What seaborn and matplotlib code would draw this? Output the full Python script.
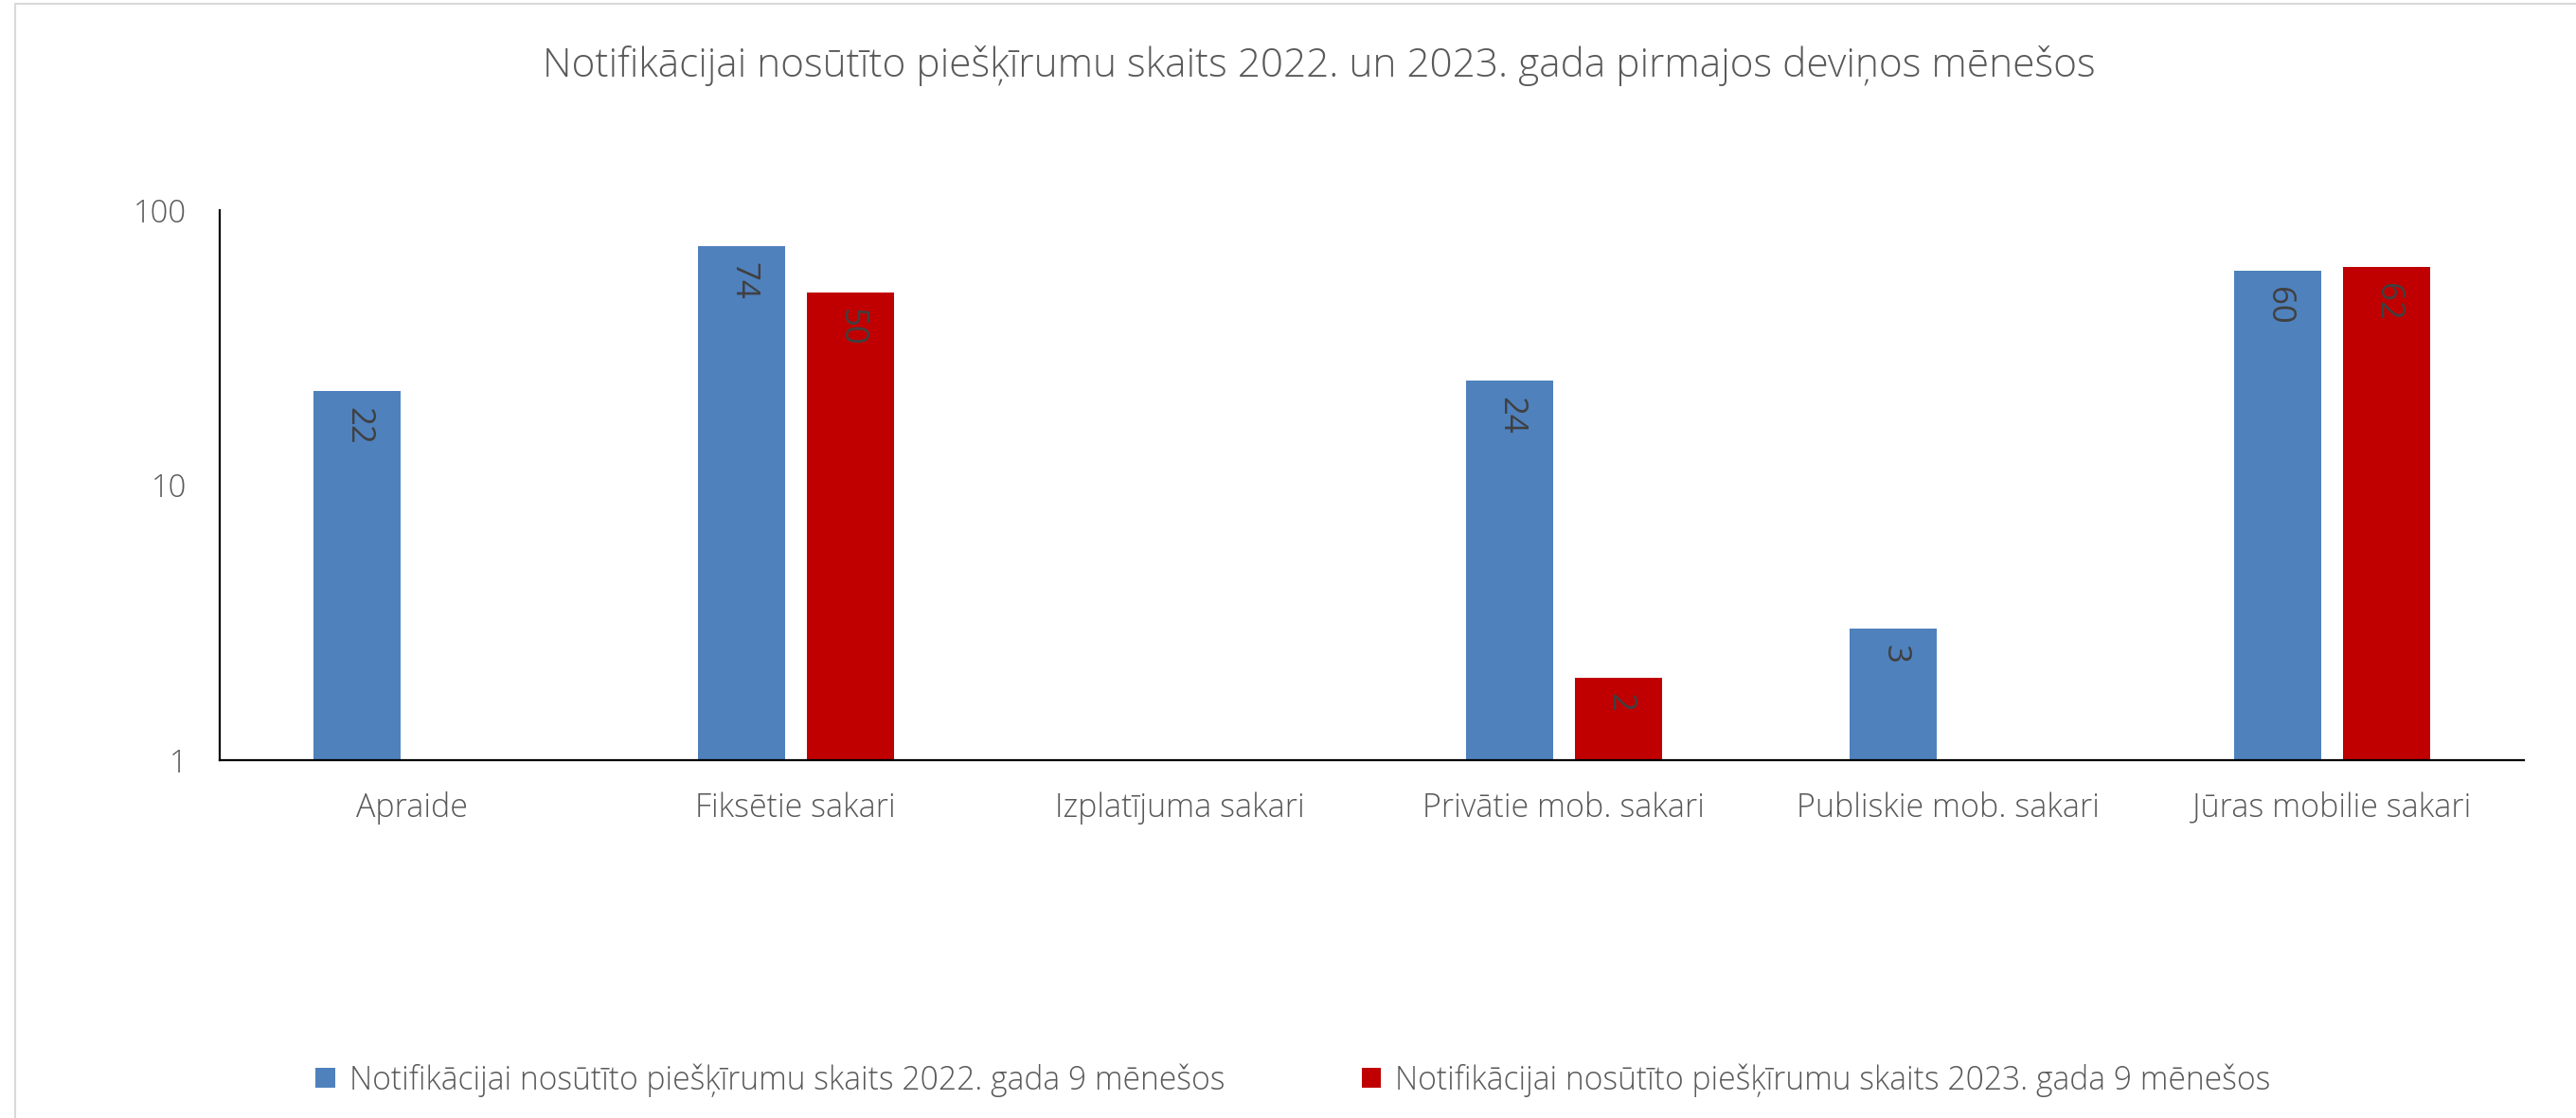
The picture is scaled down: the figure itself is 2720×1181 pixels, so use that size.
"""
Notifikācijai nosūtīto piešķīrumu skaits - bar chart on a log axis.
Writes out.png (2720x1181).
"""

import numpy as np
import pandas as pd
import matplotlib
matplotlib.use("Agg")
import matplotlib.pyplot as plt
import seaborn as sns

# ---------------------------------------------------------------
# DATA
# ---------------------------------------------------------------
categories = [
    "Apraide",
    "Fiksētie sakari",
    "Izplatījuma sakari",
    "Privātie mob. sakari",
    "Publiskie mob. sakari",
    "Jūras mobilie sakari",
]
series_names = [
    "Notifikācijai nosūtīto piešķīrumu skaits 2022. gada 9 mēnešos",
    "Notifikācijai nosūtīto piešķīrumu skaits 2023. gada 9 mēnešos",
]
values_2022 = [22, 74, np.nan, 24, 3, 60]
values_2023 = [np.nan, 50, np.nan, 2, np.nan, 62]
y_ticks = [1, 10, 100]

title = "Notifikācijai nosūtīto piešķīrumu skaits 2022. un 2023. gada pirmajos deviņos mēnešos"

colors = ["#4F81BD", "#C00000"]
TEXT = "#595959"

df = pd.DataFrame({
    "category": categories * 2,
    "series": [series_names[0]] * len(categories) + [series_names[1]] * len(categories),
    "value": values_2022 + values_2023,
})

# ---------------------------------------------------------------
# STYLE
# ---------------------------------------------------------------
sns.set_theme(style="white")
plt.rcParams["font.family"] = ["Open Sans", "DejaVu Sans"]
plt.rcParams["font.weight"] = "light"
plt.rcParams["text.color"] = TEXT

fig = plt.figure(figsize=(27.2, 11.81), dpi=100)
ax = fig.add_axes([0.0853, 0.3201, 0.8945, 0.4919])

sns.barplot(
    data=df, x="category", y="value", hue="series",
    order=categories, hue_order=series_names,
    palette=colors, saturation=1, errorbar=None,
    width=0.567, gap=0.2, linewidth=0, ax=ax,
)

ax.set_yscale("log")
ax.set_ylim(1, 100)
ax.set_xlim(-0.5, len(categories) - 0.5)
ax.set_yticks(y_ticks)
ax.set_yticklabels([str(t) for t in y_ticks])
ax.minorticks_off()
ax.set_xlabel("")
ax.set_ylabel("")

ax.tick_params(axis="y", length=0, pad=25, labelsize=23.5, labelcolor=TEXT)
ax.tick_params(axis="x", length=0, pad=24, labelsize=24.5, labelcolor=TEXT)

for side in ["top", "right"]:
    ax.spines[side].set_visible(False)
for side in ["left", "bottom"]:
    ax.spines[side].set_color("black")
    ax.spines[side].set_linewidth(1.6)

# value labels inside the bars, rotated
for container in ax.containers:
    for bar in container:
        h = bar.get_height()
        if not np.isfinite(h) or h <= 0:
            continue
        ax.annotate(
            f"{h:.0f}",
            (bar.get_x() + bar.get_width() / 2, h),
            xytext=(1, -12), textcoords="offset points",
            rotation=-90, ha="center", va="top",
            fontsize=25, fontweight="normal", color="#404040",
        )

# legend at the bottom
handles, labels = ax.get_legend_handles_labels()
ax.get_legend().remove()
fig.legend(
    handles, labels, loc="center", bbox_to_anchor=(0.502, 0.034),
    ncol=2, frameon=False, fontsize=24.2,
    handlelength=0.6, handleheight=0.6, handletextpad=0.45,
    columnspacing=4.3, labelcolor=TEXT,
)

fig.text(0.512, 0.931, title, ha="center", va="baseline", fontsize=30.5, color=TEXT)

# thin chart-area frame like the original
fig.add_artist(plt.Line2D([0.0059, 0.0059], [0.0, 0.9966], color="#D9D9D9", lw=1.5))
fig.add_artist(plt.Line2D([0.0059, 1.0], [0.9966, 0.9966], color="#D9D9D9", lw=1.5))

fig.savefig("out.png", dpi=100)
plt.close(fig)
